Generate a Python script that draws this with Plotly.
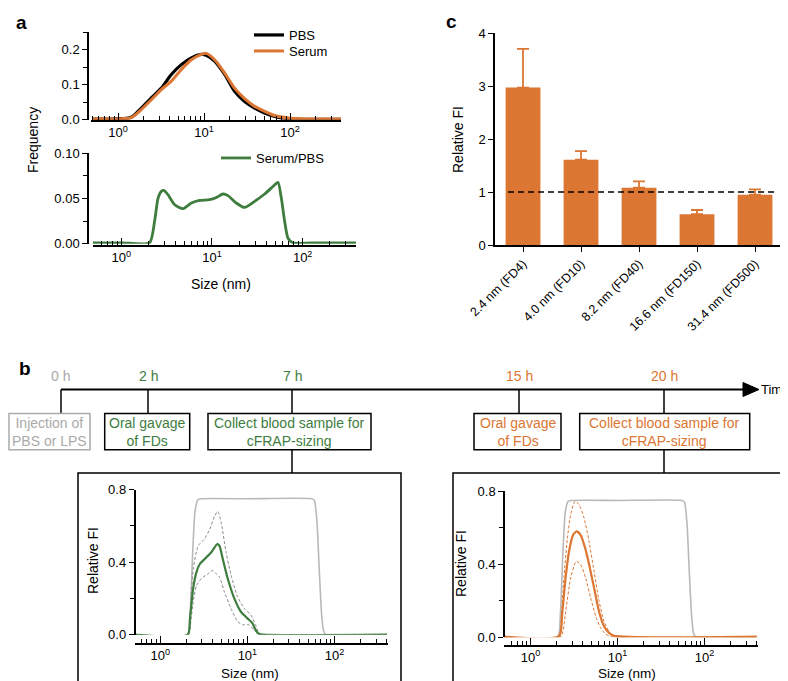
import plotly.graph_objects as go

W, H = 788, 681
def X(px): return px / W
def Y(py): return 1 - py / H

ORANGE = "#DC7633"
GREEN = "#3E7D3E"
GRAY = "#B9B9B9"
DGRAY = "#8A8A8A"
LGRAY = "#AAAAAA"
FONT = "Arial, Liberation Sans, Helvetica, sans-serif"

# ---------------- Panel a (top): size distributions ----------------
a_sizes = [0.5, 0.8, 1.1, 1.43, 1.87, 2.44, 3.19, 4.17, 5.45, 7.13, 9.31, 10.6,
           13.3, 17.4, 22.7, 29.7, 38.8, 50.7, 66.3, 94.8, 150, 400]
pbs_freq = [0.002, 0.002, 0.003, 0.007, 0.033, 0.062, 0.090, 0.129, 0.157, 0.176, 0.186, 0.184,
            0.167, 0.129, 0.081, 0.052, 0.033, 0.019, 0.0095, 0.003, 0.001, 0.001]
serum_freq = [0.002, 0.002, 0.003, 0.006, 0.029, 0.057, 0.086, 0.110, 0.143, 0.171, 0.186, 0.189,
              0.171, 0.133, 0.090, 0.060, 0.038, 0.024, 0.012, 0.005, 0.002, 0.002]

# ---------------- Panel a (bottom): ratio ----------------
ratio_sizes = [0.45, 1.0, 2.05, 2.33, 2.54, 2.76, 2.95, 3.27, 3.88, 4.78, 5.92, 7.31, 9.42, 11.2,
               13.2, 15.0, 18.5, 22.9, 29.5, 38.1, 47.1, 53.4, 58.2, 63.2, 68.9, 78, 150, 400]
ratio_freq = [0.001, 0.001, 0.001, 0.025, 0.050, 0.0577, 0.0588, 0.054, 0.043, 0.0386, 0.0449, 0.0478,
              0.0485, 0.051, 0.0548, 0.053, 0.0449, 0.040, 0.0467, 0.0548, 0.063, 0.0676, 0.050,
              0.025, 0.006, 0.001, 0.001, 0.001]

# ---------------- Panel c: bars ----------------
c_labels = ["2.4 nm (FD4)", "4.0 nm (FD10)", "8.2 nm (FD40)", "16.6 nm (FD150)", "31.4 nm (FD500)"]
c_means = [2.97, 1.61, 1.08, 0.58, 0.95]
c_err = [0.73, 0.16, 0.12, 0.08, 0.10]

# ---------------- Panel b: cFRAP sizing ----------------
ref_sizes = [0.5, 2.05, 2.2, 2.35, 2.5, 2.7, 2.9, 10, 55, 59, 63, 67, 71, 75, 80, 400]
ref_fi = [0, 0, 0.12, 0.45, 0.68, 0.745, 0.75, 0.75, 0.75, 0.74, 0.62, 0.35, 0.12, 0.02, 0, 0]

g_sizes = [0.5, 2.06, 2.19, 2.38, 2.6, 2.84, 3.23, 3.85, 4.5, 4.78, 5.21, 5.94, 7.07, 8.4,
           10.0, 11.4, 12.4, 13.5, 15, 400]
g_mean = [0, 0, 0.09, 0.255, 0.345, 0.39, 0.418, 0.455, 0.50, 0.49, 0.418, 0.31, 0.20, 0.127,
          0.09, 0.064, 0.027, 0.005, 0, 0]
g_up_sizes = [0.5, 2.1, 2.2, 2.38, 2.72, 3.23, 3.68, 4.2, 4.57, 4.99, 5.69, 6.48, 7.7, 9.2,
              10.9, 12.4, 13.5, 15, 400]
g_up = [0, 0, 0.12, 0.36, 0.49, 0.53, 0.58, 0.655, 0.68, 0.62, 0.455, 0.33, 0.21, 0.145,
        0.11, 0.055, 0.01, 0, 0]
g_lo_sizes = [0.5, 2.1, 2.19, 2.38, 2.6, 2.96, 3.53, 4.0, 4.38, 4.78, 5.44, 6.48, 7.7, 8.78,
              10.4, 11.9, 13.0, 14.5, 400]
g_lo = [0, 0, 0.036, 0.18, 0.27, 0.31, 0.336, 0.355, 0.336, 0.318, 0.236, 0.145, 0.073, 0.055,
        0.055, 0.027, 0.01, 0, 0]

o_sizes = [0.5, 2.12, 2.32, 2.53, 2.77, 3.08, 3.39, 3.77, 4.24, 4.71, 5.38, 6.14, 7.0, 8.0, 9.1, 400]
o_mean = [0.004, 0.006, 0.14, 0.325, 0.47, 0.56, 0.58, 0.56, 0.49, 0.40, 0.27, 0.14, 0.06, 0.024,
          0.008, 0.004]
o_up_sizes = [0.5, 2.15, 2.25, 2.42, 2.65, 2.89, 3.24, 3.61, 4.12, 4.71, 5.38, 6.14, 7.0, 8.0, 9.0, 400]
o_up = [0, 0, 0.10, 0.325, 0.54, 0.67, 0.745, 0.727, 0.654, 0.526, 0.36, 0.197, 0.088, 0.03, 0.005, 0]
o_lo_sizes = [0.5, 2.2, 2.53, 2.89, 3.36, 3.77, 4.31, 4.92, 5.62, 6.42, 7.3, 8.5, 400]
o_lo = [0, 0, 0.14, 0.325, 0.416, 0.398, 0.325, 0.215, 0.115, 0.05, 0.018, 0.003, 0]

# timeline
hours = ["0 h", "2 h", "7 h", "15 h", "20 h"]
hour_colors = [LGRAY, GREEN, GREEN, ORANGE, ORANGE]
events = ["Injection of<br>PBS or LPS", "Oral gavage<br>of FDs", "Collect blood sample for<br>cFRAP-sizing",
          "Oral gavage<br>of FDs", "Collect blood sample for<br>cFRAP-sizing"]

fig = go.Figure()

# panel a top
fig.add_trace(go.Scatter(x=a_sizes, y=pbs_freq, name="PBS", mode="lines", line=dict(color="black", width=3.2, shape="spline", smoothing=0.8), xaxis="x", yaxis="y", legend="legend"))
fig.add_trace(go.Scatter(x=a_sizes, y=serum_freq, name="Serum", mode="lines", line=dict(color=ORANGE, width=3, shape="spline", smoothing=0.8), xaxis="x", yaxis="y", legend="legend3"))
# panel a bottom
fig.add_trace(go.Scatter(x=ratio_sizes, y=ratio_freq, name="Serum/PBS", mode="lines", line=dict(color=GREEN, width=2.8, shape="spline", smoothing=0.6), xaxis="x2", yaxis="y2", legend="legend2"))
# panel c
fig.add_trace(go.Bar(x=c_labels, y=c_means, marker=dict(color=ORANGE, line=dict(width=0)), width=0.6,
                     error_y=dict(type="data", array=c_err, arrayminus=[0]*len(c_err), symmetric=False,
                                  color=ORANGE, thickness=1.8, width=6),
                     xaxis="x3", yaxis="y3", showlegend=False))
# panel b left
fig.add_trace(go.Scatter(x=ref_sizes, y=ref_fi, mode="lines", line=dict(color=GRAY, width=1.6, shape="spline", smoothing=0.5), xaxis="x4", yaxis="y4", showlegend=False))
fig.add_trace(go.Scatter(x=g_up_sizes, y=g_up, mode="lines", line=dict(color=DGRAY, width=1, dash="3px,2px", shape="spline", smoothing=0.6), xaxis="x4", yaxis="y4", showlegend=False))
fig.add_trace(go.Scatter(x=g_lo_sizes, y=g_lo, mode="lines", line=dict(color=DGRAY, width=1, dash="3px,2px", shape="spline", smoothing=0.6), xaxis="x4", yaxis="y4", showlegend=False))
fig.add_trace(go.Scatter(x=g_sizes, y=g_mean, mode="lines", line=dict(color=GREEN, width=2.2, shape="spline", smoothing=0.6), xaxis="x4", yaxis="y4", showlegend=False))
# panel b right
fig.add_trace(go.Scatter(x=ref_sizes, y=ref_fi, mode="lines", line=dict(color=GRAY, width=1.6, shape="spline", smoothing=0.5), xaxis="x5", yaxis="y5", showlegend=False))
fig.add_trace(go.Scatter(x=o_up_sizes, y=o_up, mode="lines", line=dict(color=ORANGE, width=1, dash="3px,2px", shape="spline", smoothing=0.6), xaxis="x5", yaxis="y5", showlegend=False))
fig.add_trace(go.Scatter(x=o_lo_sizes, y=o_lo, mode="lines", line=dict(color=ORANGE, width=1, dash="3px,2px", shape="spline", smoothing=0.6), xaxis="x5", yaxis="y5", showlegend=False))
fig.add_trace(go.Scatter(x=o_sizes, y=o_mean, mode="lines", line=dict(color=ORANGE, width=2.2, shape="spline", smoothing=0.6), xaxis="x5", yaxis="y5", showlegend=False))

log_major = [1, 10, 100]
log_text = ["10<sup>0</sup>", "10<sup>1</sup>", "10<sup>2</sup>"]
log_minor = [0.5, 0.6, 0.7, 0.8, 0.9, 2, 3, 4, 5, 6, 7, 8, 9, 20, 30, 40, 50, 60, 70, 80, 90, 200, 300, 400]

def logx(dom, rng, pos):
    return dict(type="log", domain=dom, range=rng, anchor="free", position=pos, automargin=False,
                showline=True, linecolor="black", linewidth=1.5, showgrid=False, zeroline=False,
                tickvals=log_major, ticktext=log_text, ticks="inside", ticklen=7, tickwidth=1.3,
                tickcolor="black", tickfont=dict(size=13, color="black"),
                minor=dict(tickvals=log_minor, ticks="inside", ticklen=4, tickwidth=1.2, tickcolor="black", showgrid=False))

def liny(dom, rng, pos, dtick, mdtick, fmt):
    return dict(domain=dom, range=rng, anchor="free", position=pos, automargin=False,
                showline=True, linecolor="black", linewidth=1.5, showgrid=False, zeroline=False,
                dtick=dtick, tick0=0, tickformat=fmt, ticks="outside", ticklen=5, tickwidth=1.3, tickcolor="black",
                tickfont=dict(size=13, color="black"),
                minor=dict(dtick=mdtick, tick0=0, ticks="outside", ticklen=4, tickwidth=1.2, tickcolor="black", showgrid=False))

fig.update_layout(
    xaxis=logx([X(83), X(333)], [-0.314, 2.593], Y(113)),
    yaxis=liny([Y(111.7), Y(24)], [0, 0.25], X(80), 0.1, 0.05, ".1f"),
    xaxis2=logx([X(85), X(348)], [-0.312, 2.588], Y(238)),
    yaxis2=liny([Y(235.7), Y(145)], [0, 0.10], X(80), 0.05, 0.025, ".2f"),
    xaxis4=logx([X(126.5), X(380)], [-0.297, 2.615], Y(636)),
    yaxis4=liny([Y(626.7), Y(481.7)], [0, 0.8], X(126.5), 0.4, 0.2, ".1f"),
    xaxis5=logx([X(496), X(750)], [-0.305, 2.615], Y(637.5)),
    yaxis5=liny([Y(629.3), Y(483.3)], [0, 0.8], X(496), 0.4, 0.2, ".1f"),
    xaxis3=dict(domain=[X(487), X(777)], range=[-0.483, 4.517], anchor="y3", showline=True, linecolor="black",
                linewidth=1.5, ticks="outside", ticklen=5, tickwidth=1.3, tickcolor="black", tickangle=-45,
                tickfont=dict(size=12.5, color="black"), showgrid=False, zeroline=False, automargin=False),
    yaxis3=dict(domain=[Y(237), Y(25)], range=[0, 4], anchor="x3", showline=True, linecolor="black", linewidth=1.5,
                dtick=1, ticks="outside", ticklen=5, tickwidth=1.3, tickcolor="black",
                tickfont=dict(size=13, color="black"), showgrid=False, zeroline=False, automargin=False),
)

leg_common = dict(xanchor="left", yanchor="middle", bgcolor="rgba(0,0,0,0)", font=dict(size=13),
                  itemwidth=30, borderwidth=0)
fig.update_layout(
    width=W, height=H, margin=dict(l=0, r=0, t=0, b=0, pad=0, autoexpand=False),
    paper_bgcolor="white", plot_bgcolor="white",
    font=dict(family=FONT, color="black", size=13),
    legend=dict(x=X(241), y=Y(27), **leg_common),
    legend3=dict(x=X(241), y=Y(43), **leg_common),
    legend2=dict(x=X(208), y=Y(150), **leg_common),
    bargap=0.4,
)

shapes = []
# dashed reference line in panel c
shapes.append(dict(type="line", xref="x3 domain", yref="y3", x0=0.045, x1=0.976, y0=1, y1=1,
                   line=dict(color="black", width=1.6, dash="6px,4px")))
# timeline
TL_Y = 381.5
shapes.append(dict(type="line", xref="paper", yref="paper", x0=X(53), x1=X(737), y0=Y(TL_Y), y1=Y(TL_Y),
                   line=dict(color="black", width=2)))
shapes.append(dict(type="path", xref="paper", yref="paper",
                   path=f"M {X(735)},{Y(TL_Y-7)} L {X(751)},{Y(TL_Y)} L {X(735)},{Y(TL_Y+7)} Z",
                   fillcolor="black", line=dict(color="black", width=1)))
tick_px = [53, 140, 284, 511, 656]
boxes = [(1, 82), (96.7, 181.7), (200, 363), (466, 553), (571.7, 741.7)]
box_top, box_bot = 405.5, 441.7
for i, (tx, (b0, b1)) in enumerate(zip(tick_px, boxes)):
    col = LGRAY if i == 0 else "black"
    shapes.append(dict(type="line", xref="paper", yref="paper", x0=X(tx), x1=X(tx), y0=Y(TL_Y), y1=Y(box_top),
                       line=dict(color="black", width=1.5)))
    shapes.append(dict(type="rect", xref="paper", yref="paper", x0=X(b0), x1=X(b1), y0=Y(box_bot), y1=Y(box_top),
                       line=dict(color=col, width=1.5), fillcolor="rgba(0,0,0,0)"))
# connectors to plot boxes
for tx in (284, 656):
    shapes.append(dict(type="line", xref="paper", yref="paper", x0=X(tx), x1=X(tx), y0=Y(box_bot), y1=Y(465),
                       line=dict(color="black", width=1.5)))
for (p0, p1) in ((70, 393), (445, 777)):
    shapes.append(dict(type="rect", xref="paper", yref="paper", x0=X(p0), x1=X(p1), y0=Y(678), y1=Y(465),
                       line=dict(color="black", width=1.5), fillcolor="rgba(0,0,0,0)"))
fig.update_layout(shapes=shapes)

ann = []
def txt(x, y, t, size=13, color="black", angle=0, xanchor="center", bold=False):
    if bold:
        t = f"<b>{t}</b>"
    ann.append(dict(x=X(x), y=Y(y), xref="paper", yref="paper", text=t, showarrow=False,
                    font=dict(size=size, color=color, family=FONT), textangle=angle,
                    xanchor=xanchor, yanchor="middle", borderpad=0))

txt(13, 14, "a", size=19, bold=True)
txt(443, 13, "c", size=19, bold=True)
txt(17, 360, "b", size=19, bold=True)
txt(25, 132, "Frequency", size=14, angle=-90)
txt(213, 276, "Size (nm)", size=14)
txt(450, 132, "Relative FI", size=14, angle=-90)
txt(85, 553, "Relative FI", size=14, angle=-90)
txt(453, 556, "Relative FI", size=14, angle=-90)
txt(241.7, 665.5, "Size (nm)", size=13.5)
txt(619, 665.5, "Size (nm)", size=13.5)
for tx, h, c in zip(tick_px, hours, hour_colors):
    txt(tx, 368, h, size=14, color=c)
txt(752, 381, "Time", size=13, xanchor="left")
for i, ((b0, b1), e) in enumerate(zip(boxes, events)):
    txt((b0 + b1) / 2, (box_top + box_bot) / 2, e, size=14, color=hour_colors[i])
fig.update_layout(annotations=ann)

fig.write_html("out.html")
